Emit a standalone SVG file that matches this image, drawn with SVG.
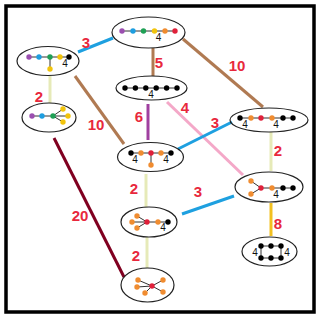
<svg xmlns="http://www.w3.org/2000/svg" width="320" height="319" viewBox="0 0 320 319">
<style>
.el{fill:none;stroke:#222;stroke-width:1.2}
.e{stroke-width:3;fill:none}
.lb{font-family:"Liberation Sans",Arial,sans-serif;font-weight:bold;font-size:15px;fill:#e8283c;text-anchor:middle}
.n4{font-family:"Liberation Sans",Arial,sans-serif;font-size:10px;fill:#111;text-anchor:middle}
.k{stroke:#333;stroke-width:1;fill:none}
.pu{fill:#9b4fb0}.bl{fill:#1e9ee0}.gr{fill:#1fa055}.ye{fill:#f2c40c}.or{fill:#f08c30}.rd{fill:#e0203a}.bk{fill:#000}
</style>
<rect x="0" y="0" width="320" height="319" fill="#fff"/>
<rect x="6" y="6" width="308" height="306" fill="none" stroke="#000" stroke-width="3.5"/>
<g id="connectors">
<line class="e" x1="78" y1="52" x2="113" y2="38" stroke="#1ea0e0"/>
<line class="e" x1="153" y1="48" x2="153" y2="76" stroke="#b07a52"/>
<line class="e" x1="183" y1="39" x2="263" y2="107" stroke="#b07a52"/>
<line class="e" x1="50" y1="76" x2="50" y2="103" stroke="#e6eab8"/>
<line class="e" x1="75" y1="76" x2="124" y2="144" stroke="#b07a52"/>
<line class="e" x1="148" y1="104" x2="148" y2="140" stroke="#a040a0"/>
<line class="e" x1="167" y1="102" x2="243" y2="175" stroke="#f4a8c8"/>
<line class="e" x1="178" y1="149" x2="232" y2="122" stroke="#1ea0e0"/>
<line class="e" x1="271" y1="132" x2="271" y2="171" stroke="#e6eab8"/>
<line class="e" x1="146" y1="174" x2="146" y2="207" stroke="#e6eab8"/>
<line class="e" x1="182" y1="214" x2="234" y2="196" stroke="#1ea0e0"/>
<line class="e" x1="54" y1="138" x2="124" y2="277" stroke="#800020"/>
<line class="e" x1="147" y1="237" x2="147" y2="268" stroke="#e6eab8"/>
<line class="e" x1="271" y1="203" x2="271" y2="236" stroke="#f2c020"/>
<text class="lb" x="86" y="48">3</text>
<text class="lb" x="159" y="68">5</text>
<text class="lb" x="237" y="71">10</text>
<text class="lb" x="39" y="102">2</text>
<text class="lb" x="96" y="130">10</text>
<text class="lb" x="139" y="122">6</text>
<text class="lb" x="185" y="113">4</text>
<text class="lb" x="215" y="128">3</text>
<text class="lb" x="278" y="156">2</text>
<text class="lb" x="134" y="194">2</text>
<text class="lb" x="198" y="197">3</text>
<text class="lb" x="80" y="221">20</text>
<text class="lb" x="136" y="261">2</text>
<text class="lb" x="278" y="229">8</text>
</g>
<g id="n1">
<ellipse class="el" cx="48" cy="61" rx="31" ry="14.5"/>
<path class="k" d="M29 57H69M50 57V69"/>
<circle class="pu" cx="29" cy="57" r="2.7"/><circle class="bl" cx="39" cy="57" r="2.7"/><circle class="gr" cx="50" cy="57" r="2.7"/><circle class="ye" cx="60" cy="57" r="2.7"/><circle class="bk" cx="69" cy="57" r="2.7"/><circle class="ye" cx="50" cy="69" r="2.7"/>
<text class="n4" x="65" y="67">4</text>
</g>
<g id="n2">
<ellipse class="el" cx="148.5" cy="32.5" rx="36.5" ry="15.5"/>
<path class="k" d="M122 31H175"/>
<circle class="pu" cx="122" cy="31" r="2.7"/><circle class="bl" cx="133" cy="31" r="2.7"/><circle class="gr" cx="143.5" cy="31" r="2.7"/><circle class="ye" cx="154.5" cy="31" r="2.7"/><circle class="or" cx="165" cy="31" r="2.7"/><circle class="rd" cx="175" cy="31" r="2.7"/>
<text class="n4" x="158.5" y="41">4</text>
</g>
<g id="n3">
<ellipse class="el" cx="151.5" cy="88" rx="35.5" ry="12"/>
<path class="k" d="M125 88H177"/>
<circle class="bk" cx="125" cy="88" r="2.7"/><circle class="bk" cx="135.4" cy="88" r="2.7"/><circle class="bk" cx="145.8" cy="88" r="2.7"/><circle class="bk" cx="156.2" cy="88" r="2.7"/><circle class="bk" cx="166.6" cy="88" r="2.7"/><circle class="bk" cx="177" cy="88" r="2.7"/>
<text class="n4" x="151" y="98">4</text>
</g>
<g id="n4">
<ellipse class="el" cx="49" cy="117.5" rx="27" ry="14.5"/>
<path class="k" d="M32 116H53L63 109M53 116H68M53 116L63 122"/>
<circle class="pu" cx="32" cy="116" r="2.7"/><circle class="bl" cx="42" cy="116" r="2.7"/><circle class="gr" cx="53" cy="116" r="2.7"/><circle class="ye" cx="63" cy="109" r="2.7"/><circle class="ye" cx="68" cy="116" r="2.7"/><circle class="ye" cx="63" cy="122" r="2.7"/>
</g>
<g id="n5">
<ellipse class="el" cx="150.5" cy="157" rx="33" ry="14.5"/>
<path class="k" d="M131 153H171M151 153V165"/>
<circle class="bk" cx="131" cy="153" r="2.7"/><circle class="or" cx="141" cy="153" r="2.7"/><circle class="rd" cx="151" cy="153" r="2.7"/><circle class="or" cx="161" cy="153" r="2.7"/><circle class="bk" cx="171" cy="153" r="2.7"/><circle class="or" cx="151" cy="165" r="2.7"/>
<text class="n4" x="135" y="163">4</text><text class="n4" x="166" y="163">4</text>
</g>
<g id="n6">
<ellipse class="el" cx="269" cy="120" rx="39" ry="12"/>
<path class="k" d="M240 118H293"/>
<circle class="bk" cx="240" cy="118" r="2.7"/><circle class="or" cx="251" cy="118" r="2.7"/><circle class="rd" cx="261" cy="118" r="2.7"/><circle class="or" cx="272" cy="118" r="2.7"/><circle class="bk" cx="283" cy="118" r="2.7"/><circle class="bk" cx="293" cy="118" r="2.7"/>
<text class="n4" x="245" y="128">4</text><text class="n4" x="276" y="128">4</text>
</g>
<g id="n7">
<ellipse class="el" cx="269" cy="187" rx="34" ry="15"/>
<path class="k" d="M251 181L261 188L251 194M261 188H293"/>
<circle class="or" cx="251" cy="181" r="2.7"/><circle class="or" cx="251" cy="194" r="2.7"/><circle class="rd" cx="261" cy="188" r="2.7"/><circle class="or" cx="272" cy="188" r="2.7"/><circle class="bk" cx="283" cy="188" r="2.7"/><circle class="bk" cx="293" cy="188" r="2.7"/>
<text class="n4" x="276" y="198">4</text>
</g>
<g id="n8">
<ellipse class="el" cx="149" cy="222" rx="28" ry="15"/>
<path class="k" d="M137 216L147 222L137 228M132 222H168"/>
<circle class="or" cx="137" cy="216" r="2.7"/><circle class="or" cx="132" cy="222" r="2.7"/><circle class="or" cx="137" cy="228" r="2.7"/><circle class="rd" cx="147" cy="222" r="2.7"/><circle class="or" cx="158" cy="222" r="2.7"/><circle class="bk" cx="168" cy="222" r="2.7"/>
<text class="n4" x="163" y="231">4</text>
</g>
<g id="n9">
<ellipse class="el" cx="147.5" cy="285" rx="26.5" ry="17"/>
<path class="k" d="M152 286L138 280M152 286L137 287M152 286L145 293M152 286L163 280M152 286L163 292"/>
<circle class="or" cx="138" cy="280" r="2.7"/><circle class="or" cx="137" cy="287" r="2.7"/><circle class="or" cx="145" cy="293" r="2.7"/><circle class="or" cx="163" cy="280" r="2.7"/><circle class="or" cx="163" cy="292" r="2.7"/><circle class="rd" cx="152" cy="286" r="2.7"/>
</g>
<g id="n10">
<ellipse class="el" cx="269.5" cy="251.5" rx="27.5" ry="14.5"/>
<path class="k" d="M261 246H281V258H261Z"/>
<circle class="bk" cx="261" cy="246" r="2.7"/><circle class="bk" cx="271" cy="246" r="2.7"/><circle class="bk" cx="281" cy="246" r="2.7"/><circle class="bk" cx="261" cy="258" r="2.7"/><circle class="bk" cx="271" cy="258" r="2.7"/><circle class="bk" cx="281" cy="258" r="2.7"/>
<text class="n4" x="255" y="256">4</text><text class="n4" x="287" y="256">4</text>
</g>
</svg>
